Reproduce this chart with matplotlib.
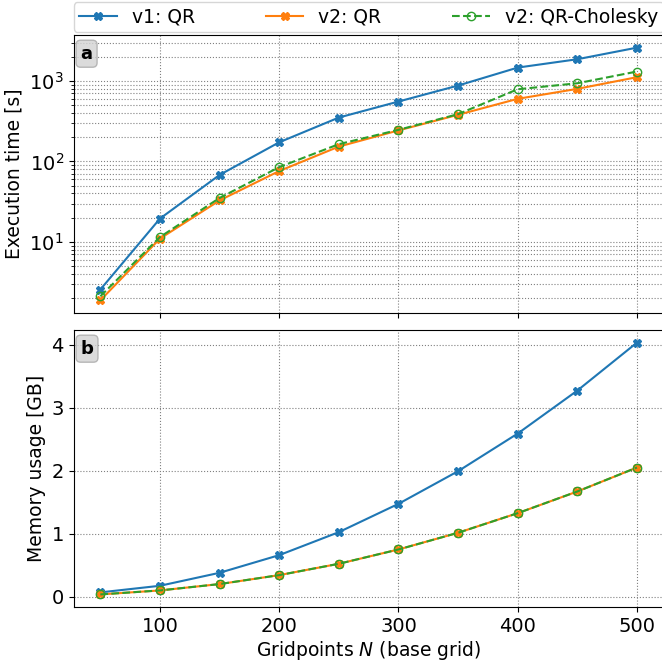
import matplotlib
matplotlib.use("Agg")
import matplotlib.pyplot as plt

# Gridpoints N (base grid)
N = [50, 100, 150, 200, 250, 300, 350, 400, 450, 500]

# Execution time [s]
t_v1_qr = [2.56, 19.5, 68, 173, 351, 555, 877, 1466, 1862, 2594]
t_v2_qr = [1.88, 11.0, 32.8, 76, 153, 243, 380, 600, 798, 1114]
t_v2_chol = [2.11, 11.5, 35.2, 85, 164, 247, 387, 789, 936, 1310]

# Memory usage [GB]
m_v1_qr = [0.069, 0.174, 0.380, 0.660, 1.025, 1.474, 1.992, 2.589, 3.271, 4.032]
m_v2_qr = [0.037, 0.100, 0.201, 0.343, 0.523, 0.750, 1.015, 1.326, 1.670, 2.050]
m_v2_chol = [0.037, 0.100, 0.201, 0.343, 0.523, 0.750, 1.015, 1.326, 1.670, 2.050]

labels = ["v1: QR", "v2: QR", "v2: QR-Cholesky"]

plt.rcParams["font.size"] = 13.5
plt.rcParams["xtick.labelsize"] = 14
plt.rcParams["ytick.labelsize"] = 14

fig = plt.figure(figsize=(6.62, 6.60), dpi=100)
W, H = 662, 660
left = 73.5 / W
width = 590.3 / W
ax1 = fig.add_axes([left, 1 - 313 / H, width, 278 / H])
ax2 = fig.add_axes([left, 1 - 607 / H, width, 277 / H], sharex=ax1)

def draw(ax, y1, y2, y3):
    ax.plot(N, y1, color="tab:blue", marker="X", ms=6, lw=1.5, label=labels[0])
    ax.plot(N, y2, color="tab:orange", marker="X", ms=6, lw=1.5, label=labels[1])
    ax.plot(N, y3, color="tab:green", marker="o", ms=6, lw=1.5, ls="--",
            mfc="none", label=labels[2])

draw(ax1, t_v1_qr, t_v2_qr, t_v2_chol)
draw(ax2, m_v1_qr, m_v2_qr, m_v2_chol)

ax1.set_yscale("log")
ax1.grid(True, which="both", axis="y", ls=":", color="gray", lw=0.8)
ax1.grid(True, which="major", axis="x", ls=":", color="gray", lw=0.8)
ax2.grid(True, ls=":", color="gray", lw=0.8)
ax1.tick_params(labelbottom=False)

ax1.set_ylabel("Execution time [s]")
ax2.set_ylabel("Memory usage [GB]")
ax2.set_xlabel("Gridpoints $N$ (base grid)", labelpad=2)
ax2.set_xticks([100, 200, 300, 400, 500])
ax2.set_yticks([0, 1, 2, 3, 4])

for ax, lab in [(ax1, "a"), (ax2, "b")]:
    ax.text(0.012, 0.965, lab, transform=ax.transAxes, fontsize=13, fontweight="bold",
            va="top", ha="left",
            bbox=dict(boxstyle="round,pad=0.25", facecolor="lightgray", edgecolor="darkgray", alpha=0.8))

ax1.legend(loc="lower left", bbox_to_anchor=(0, 1.01, 1, 0.1), ncol=3, mode="expand",
           borderaxespad=0, fontsize=13.5, borderpad=0.3)

fig.savefig("out.png", dpi=100)
